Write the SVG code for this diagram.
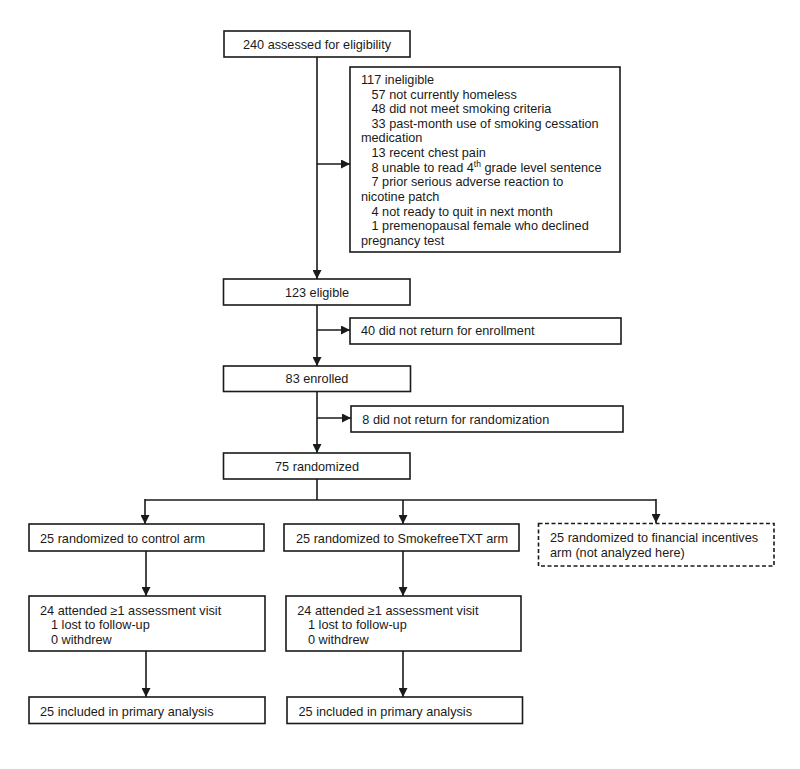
<svg xmlns="http://www.w3.org/2000/svg" width="800" height="769" viewBox="0 0 800 769">
<defs>
<marker id="ah" viewBox="0 0 10 10" refX="10" refY="5" markerWidth="10" markerHeight="9" markerUnits="userSpaceOnUse" orient="auto">
<path d="M0,0 L10,5 L0,10 z" fill="#1a1a1a"/>
</marker>
<style>
.box{fill:#fff;stroke:#1a1a1a;stroke-width:1.6}
.dash{fill:#fff;stroke:#1a1a1a;stroke-width:1.6;stroke-dasharray:4,2.5}
.ln{fill:none;stroke:#1a1a1a;stroke-width:1.6}
.ar{fill:none;stroke:#1a1a1a;stroke-width:1.6;marker-end:url(#ah)}
text{font-family:"Liberation Sans",Arial,sans-serif;font-size:12.7px;fill:#1a1a1a}
.c{text-anchor:middle}
</style>
</defs>
<rect width="800" height="769" fill="#fff"/>
<g id="connectors">
<line class="ar" x1="317" y1="57" x2="317" y2="279"/>
<line class="ar" x1="317" y1="164" x2="350" y2="164"/>
<line class="ar" x1="317" y1="305" x2="317" y2="366"/>
<line class="ar" x1="317" y1="330" x2="350" y2="330"/>
<line class="ar" x1="317" y1="391" x2="317" y2="453"/>
<line class="ar" x1="317" y1="418" x2="351" y2="418"/>
<line class="ln" x1="317" y1="479" x2="317" y2="500"/>
<line class="ln" x1="145" y1="500" x2="656" y2="500"/>
<line class="ar" x1="145" y1="499" x2="145" y2="524"/>
<line class="ar" x1="403" y1="500" x2="403" y2="524"/>
<line class="ar" x1="656" y1="499" x2="656" y2="523"/>
<line class="ar" x1="146" y1="551" x2="146" y2="596"/>
<line class="ar" x1="403" y1="551" x2="403" y2="596"/>
<line class="ar" x1="146" y1="651" x2="146" y2="697"/>
<line class="ar" x1="403" y1="651" x2="403" y2="697"/>
</g>
<g id="assessed">
<rect class="box" x="224" y="31" width="186" height="26"/>
<text class="c" x="317" y="48.8">240 assessed for eligibility</text>
</g>
<g id="ineligible">
<rect class="box" x="350" y="67" width="270" height="185"/>
<text x="361" y="83.8">117 ineligible</text>
<text x="371.5" y="98.5">57 not currently homeless</text>
<text x="371.5" y="113.1">48 did not meet smoking criteria</text>
<text x="371.5" y="127.8">33 past-month use of smoking cessation</text>
<text x="361" y="142.4">medication</text>
<text x="371.5" y="157">13 recent chest pain</text>
<text x="371.5" y="171.7">8 unable to read 4<tspan font-size="8.5" dy="-4.5">th</tspan><tspan dy="4.5"> grade level sentence</tspan></text>
<text x="371.5" y="186.3">7 prior serious adverse reaction to</text>
<text x="361" y="201">nicotine patch</text>
<text x="371.5" y="215.6">4 not ready to quit in next month</text>
<text x="371.5" y="230.3">1 premenopausal female who declined</text>
<text x="361" y="244.9">pregnancy test</text>
</g>
<g id="eligible">
<rect class="box" x="223.5" y="279" width="186.5" height="26"/>
<text class="c" x="317" y="296.8">123 eligible</text>
</g>
<g id="noenroll">
<rect class="box" x="350" y="318" width="271" height="26"/>
<text x="361" y="335.2">40 did not return for enrollment</text>
</g>
<g id="enrolled">
<rect class="box" x="223.5" y="366" width="187" height="25.5"/>
<text class="c" x="317" y="383.2">83 enrolled</text>
</g>
<g id="norandom">
<rect class="box" x="351" y="406" width="272" height="26"/>
<text x="362.3" y="423.8">8 did not return for randomization</text>
</g>
<g id="randomized">
<rect class="box" x="223.5" y="453" width="186.5" height="26"/>
<text class="c" x="317" y="471.2">75 randomized</text>
</g>
<g id="control">
<rect class="box" x="29" y="524" width="235" height="27"/>
<text x="40" y="542.5">25 randomized to control arm</text>
</g>
<g id="smokefree">
<rect class="box" x="284" y="524" width="235" height="27"/>
<text x="296" y="542.5">25 randomized to SmokefreeTXT arm</text>
</g>
<g id="incentives">
<rect class="dash" x="538.5" y="523.5" width="235.5" height="42.5"/>
<text x="550" y="541.8">25 randomized to financial incentives</text>
<text x="550" y="557.2">arm (not analyzed here)</text>
</g>
<g id="attended1">
<rect class="box" x="29" y="596" width="236" height="55"/>
<text x="40" y="614.5">24 attended ≥1 assessment visit</text>
<text x="51" y="628.8">1 lost to follow-up</text>
<text x="51" y="643.5">0 withdrew</text>
</g>
<g id="attended2">
<rect class="box" x="286" y="596" width="235" height="55"/>
<text x="297.3" y="614.5">24 attended ≥1 assessment visit</text>
<text x="308" y="628.8">1 lost to follow-up</text>
<text x="308" y="643.5">0 withdrew</text>
</g>
<g id="included1">
<rect class="box" x="29" y="697" width="236" height="26.5"/>
<text x="40" y="715.5">25 included in primary analysis</text>
</g>
<g id="included2">
<rect class="box" x="287" y="697" width="235.5" height="26.5"/>
<text x="298.5" y="715.5">25 included in primary analysis</text>
</g>
</svg>
